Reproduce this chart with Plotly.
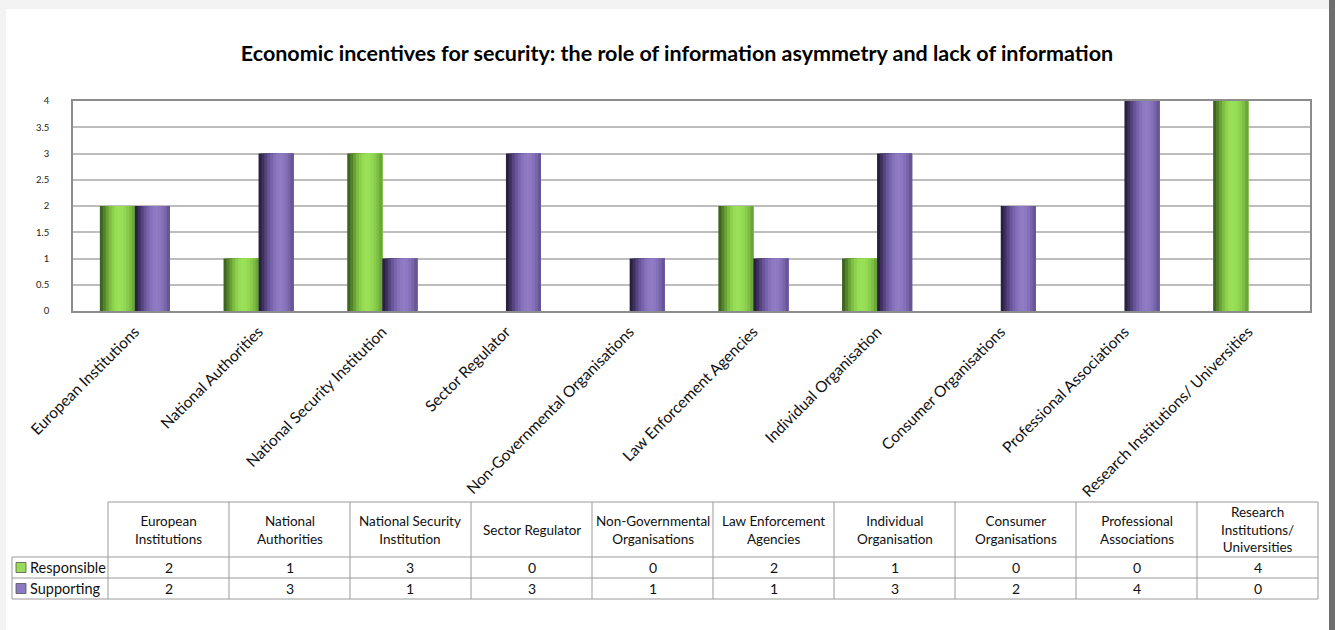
import plotly.graph_objects as go

# ---------------- data ----------------
categories = ["European Institutions", "National Authorities", "National Security Institution",
              "Sector Regulator", "Non-Governmental Organisations", "Law Enforcement Agencies",
              "Individual Organisation", "Consumer Organisations", "Professional Associations",
              "Research Institutions/ Universities"]
header_labels = ["European<br>Institutions", "National<br>Authorities", "National Security<br>Institution",
                 "Sector Regulator", "Non-Governmental<br>Organisations", "Law Enforcement<br>Agencies",
                 "Individual<br>Organisation", "Consumer<br>Organisations", "Professional<br>Associations",
                 "Research<br>Institutions/<br>Universities"]
series_names = ["Responsible", "Supporting"]
responsible = [2, 1, 3, 0, 0, 2, 1, 0, 0, 4]
supporting = [2, 3, 1, 3, 1, 1, 3, 2, 4, 0]
y_ticks = [0, 0.5, 1, 1.5, 2, 2.5, 3, 3.5, 4]
title = "Economic incentives for security: the role of information asymmetry and lack of information"

# ---------------- layout geometry (pixels) ----------------
W, H = 1335, 630
ML, MR, MT, MB = 73, 25, 101, 319
PW, PH = W - ML - MR, H - MT - MB
FONT = "Lato, 'Open Sans', sans-serif"


def px(xp):
    return (xp - ML) / PW


def py(yp):
    return (H - MB - yp) / PH


# shading profiles (left -> right) to mimic cylinder-like gradient bars
green_shades = ["#3d6420", "#52822b", "#68a236", "#7cbd42", "#8cd04c", "#96dc55",
                "#9ae159", "#98df57", "#93d852", "#8acd4c", "#7dbd44", "#6aa63a"]
purple_shades = ["#2a2140", "#3e3160", "#55447f", "#68559a", "#7864ad", "#8570ba",
                 "#8d78c2", "#907bc4", "#8c77c0", "#8470b8", "#7864aa", "#665694"]
BAR_W = 35 / (PW / len(categories))

fig = go.Figure()
for values, shades, start in [(responsible, green_shades, -BAR_W), (supporting, purple_shades, 0.0)]:
    n = len(shades)
    sw = BAR_W / n
    for i, c in enumerate(shades):
        fig.add_trace(go.Bar(
            x=categories, y=values, width=BAR_W - i * sw, offset=start + i * sw,
            marker=dict(color=c, line=dict(width=0)), showlegend=False, hoverinfo="x+y"))

fig.update_layout(
    width=W, height=H, barmode="overlay",
    margin=dict(l=ML, r=MR, t=MT, b=MB, autoexpand=False),
    paper_bgcolor="#f3f3f3", plot_bgcolor="#f0f0f0",
    font=dict(family=FONT, color="#000000"),
    title=dict(text="<b>" + title + "</b>", x=677 / W, xanchor="center", y=1 - 53 / H, yanchor="middle",
               font=dict(size=21.5, family=FONT, color="#000000")),
    xaxis=dict(type="category", tickangle=-45, tickfont=dict(size=15.5, family=FONT, color="#111"),
               showgrid=False, showline=True, linecolor="#8c8c8c", linewidth=1.5, mirror=True,
               ticks="outside", ticklen=4, tickcolor="rgba(0,0,0,0)", range=[-0.5, len(categories) - 0.5]),
    yaxis=dict(range=[0, 4], tickvals=y_ticks, ticktext=[f"{v:g}" for v in y_ticks],
               tickfont=dict(size=9.5, family=FONT, color="#222"), showgrid=True, gridcolor="#bdbdbd",
               gridwidth=2, showline=True, linecolor="#8c8c8c", linewidth=1.5, mirror=True,
               ticks="outside", ticklen=20, tickcolor="rgba(0,0,0,0)", zeroline=False),
)

shapes = []
# card background and frame
shapes.append(dict(type="rect", xref="paper", yref="paper", x0=px(6), x1=px(1329), y0=py(9), y1=py(H),
                   fillcolor="white", line=dict(width=0), layer="below"))
shapes.append(dict(type="rect", xref="paper", yref="paper", x0=px(1329), x1=px(W), y0=py(0), y1=py(H),
                   fillcolor="#6e6e6e", line=dict(width=0), layer="below"))

# ---------------- data table ----------------
TBL_L, COL0_R, COL_W = 12, 108, 121.0
HDR_T, ROW1_T, ROW2_T, ROW_B = 502, 557, 578, 599
TBL_R = COL0_R + COL_W * len(categories)
lc = dict(color="#9a9a9a", width=1)
# horizontal lines
shapes.append(dict(type="line", xref="paper", yref="paper", x0=px(COL0_R), x1=px(TBL_R), y0=py(HDR_T), y1=py(HDR_T), line=lc))
for yy in (ROW1_T, ROW2_T, ROW_B):
    shapes.append(dict(type="line", xref="paper", yref="paper", x0=px(TBL_L), x1=px(TBL_R), y0=py(yy), y1=py(yy), line=lc))
# vertical lines
shapes.append(dict(type="line", xref="paper", yref="paper", x0=px(TBL_L), x1=px(TBL_L), y0=py(ROW1_T), y1=py(ROW_B), line=lc))
for k in range(len(categories) + 1):
    xx = COL0_R + k * COL_W
    shapes.append(dict(type="line", xref="paper", yref="paper", x0=px(xx), x1=px(xx), y0=py(HDR_T), y1=py(ROW_B), line=lc))

annotations = []
for k, lab in enumerate(header_labels):
    xc = COL0_R + (k + 0.5) * COL_W
    annotations.append(dict(xref="paper", yref="paper", x=px(xc), y=py((HDR_T + ROW1_T) / 2), text=lab,
                            showarrow=False, xanchor="center", yanchor="middle",
                            font=dict(size=13.5, family=FONT, color="#111")))
legend_cols = [green_shades[5], purple_shades[6]]
for r, (name, vals, col) in enumerate(zip(series_names, [responsible, supporting], legend_cols)):
    top = ROW1_T if r == 0 else ROW2_T
    bot = ROW2_T if r == 0 else ROW_B
    ym = (top + bot) / 2
    shapes.append(dict(type="rect", xref="paper", yref="paper", x0=px(16), x1=px(26), y0=py(ym - 5), y1=py(ym + 5),
                       fillcolor=col, line=dict(color="#555", width=0.8)))
    annotations.append(dict(xref="paper", yref="paper", x=px(28), y=py(ym), text=name, showarrow=False,
                            xanchor="left", yanchor="middle", font=dict(size=14.5, family=FONT, color="#111")))
    for k, v in enumerate(vals):
        xc = COL0_R + (k + 0.5) * COL_W
        annotations.append(dict(xref="paper", yref="paper", x=px(xc), y=py(ym), text=str(v), showarrow=False,
                                xanchor="center", yanchor="middle", font=dict(size=14, family=FONT, color="#111")))

fig.update_layout(shapes=shapes, annotations=annotations)
fig.write_html("out.html", config={"displayModeBar": False},
               post_script="document.body.style.margin='0px';document.body.style.overflow='hidden';")
